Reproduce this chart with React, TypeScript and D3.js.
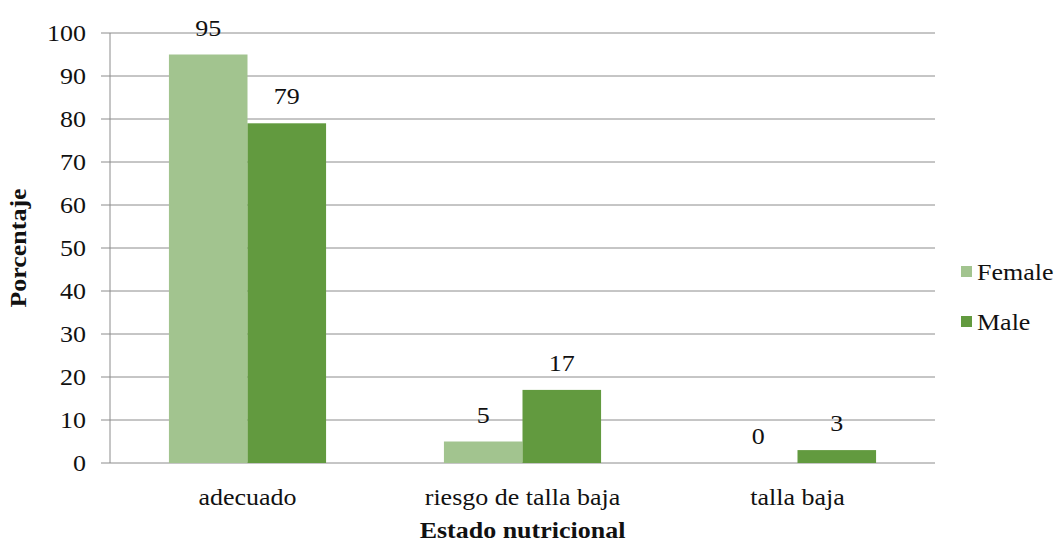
import React from 'react';
import * as d3 from 'd3';

const categories = ['adecuado', 'riesgo de talla baja', 'talla baja'];
const seriesNames = ['Female', 'Male'];
const femaleValues = [95, 5, 0];
const maleValues = [79, 17, 3];
const yTicks = [0, 10, 20, 30, 40, 50, 60, 70, 80, 90, 100];
const colors = ['#a2c48f', '#629a3f'];

const font = "'Liberation Serif', 'Times New Roman', Times, serif";

// text that is a bit wider than plain Times, like the reference
function T(props: { x: number; y: number; anchor?: string; bold?: boolean; size?: number; dy?: string; children: React.ReactNode }) {
    const { x, y, anchor = 'start', bold = false, size = 23, dy, children } = props;
    return (
        <text
            transform={`translate(${x}, ${y}) scale(1.13, 1)`}
            dy={dy}
            textAnchor={anchor}
            style={{ fontFamily: font, fontSize: size, fontWeight: bold ? 'bold' : 'normal' }}
            fill="#111"
        >
            {children}
        </text>
    );
}

export default function App() {
    const margin = { top: 33, right: 124, bottom: 80, left: 110 };
    const width = 1059;
    const height = 543;
    const w = width - margin.left - margin.right;
    const h = height - margin.top - margin.bottom;

    const scale_x = d3.scaleBand<string>()
        .domain(categories)
        .range([0, w]);

    const bw = scale_x.bandwidth() / 3.5;

    const scale_y = d3.scaleLinear()
        .domain([0, 100])
        .range([h, 0]);

    const series = [femaleValues, maleValues];

    return (
        <svg width={width} height={height} style={{ position: 'absolute', left: 0, top: 0 }}>
            <g transform={`translate(${margin.left}, ${margin.top})`}>
                {/* grid + ticks */}
                {yTicks.map((t) => (
                    <g key={t}>
                        <line x1={-9} x2={w} y1={scale_y(t)} y2={scale_y(t)} stroke="#8c8c8c" strokeWidth={1} />
                        <T x={-24} y={scale_y(t)} dy="0.35em" anchor="end">{t}</T>
                    </g>
                ))}
                <line x1={0} x2={0} y1={0} y2={h} stroke="#8c8c8c" strokeWidth={1} />

                {/* bars */}
                {categories.map((c, i) => {
                    const center = (scale_x(c) ?? 0) + scale_x.bandwidth() / 2;
                    return series.map((vals, s) => {
                        const x0 = center - bw + s * bw;
                        const v = vals[i];
                        return (
                            <g key={`${c}-${s}`}>
                                <rect x={x0} y={scale_y(v)} width={bw} height={h - scale_y(v)} fill={colors[s]} />
                                <T x={x0 + bw / 2} y={scale_y(v) - 19} anchor="middle">{v}</T>
                            </g>
                        );
                    });
                })}

                {/* category labels */}
                {categories.map((c) => (
                    <T key={c} x={(scale_x(c) ?? 0) + scale_x.bandwidth() / 2} y={h + 42} anchor="middle">{c}</T>
                ))}

                <T x={w / 2} y={h + 75} anchor="middle" bold>Estado nutricional</T>
                <text
                    transform={`translate(${-84}, ${h / 2}) rotate(-90) scale(1.13, 1)`}
                    textAnchor="middle"
                    style={{ fontFamily: font, fontSize: 23, fontWeight: 'bold' }}
                    fill="#111"
                >
                    Porcentaje
                </text>
            </g>

            {/* legend */}
            {seriesNames.map((name, s) => (
                <g key={name} transform={`translate(961, ${272 + s * 50})`}>
                    <rect x={0} y={-6} width={11} height={11} fill={colors[s]} />
                    <T x={16} y={0} dy="0.35em">{name}</T>
                </g>
            ))}
        </svg>
    );
}
